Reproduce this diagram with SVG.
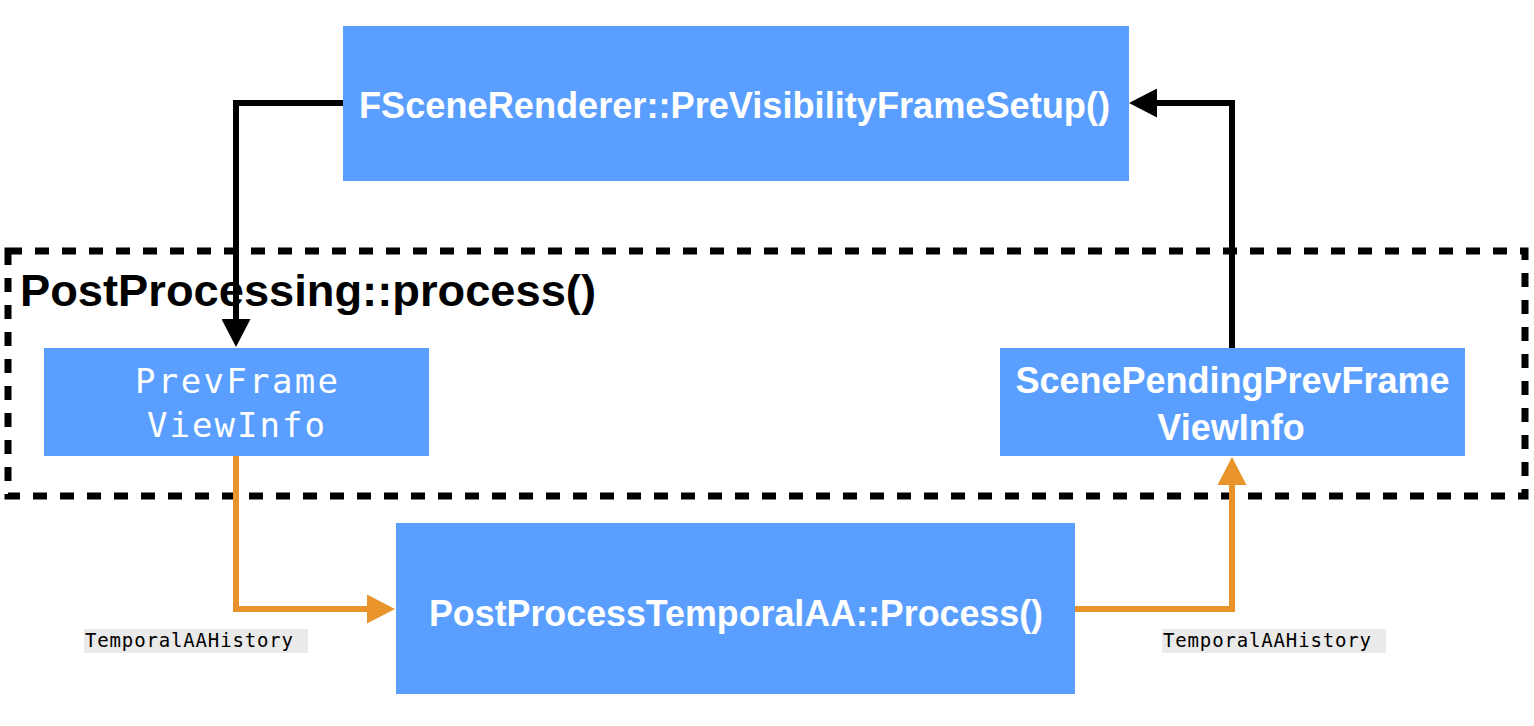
<svg xmlns="http://www.w3.org/2000/svg" width="1534" height="726" viewBox="0 0 1534 726">
<style>
.box{fill:#5A9FFF;}
.sans{font-family:"Liberation Sans",Arial,Helvetica,sans-serif;font-weight:bold;}
.wt{fill:#FFFFFF;font-size:36px;}
.mono{font-family:"DejaVu Sans Mono","Liberation Mono",monospace;}
.lbl{font-size:19px;fill:#000000;}
.lblbg{fill:#EAEAEA;}
.blk{fill:none;stroke:#000000;stroke-width:6;}
.org{fill:none;stroke:#E8942A;stroke-width:6;}
</style>
<defs>
<marker id="ab" viewBox="0 0 28 29" refX="0" refY="14.5" markerWidth="28" markerHeight="29" markerUnits="userSpaceOnUse" orient="auto">
<path d="M0,0 L28,14.5 L0,29 Z" fill="#000000"/>
</marker>
<marker id="ao" viewBox="0 0 28 29" refX="0" refY="14.5" markerWidth="28" markerHeight="29" markerUnits="userSpaceOnUse" orient="auto">
<path d="M0,0 L28,14.5 L0,29 Z" fill="#E8942A"/>
</marker>
</defs>
<rect width="1534" height="726" fill="#FFFFFF"/>
<g id="postprocessing-group">
<rect x="8" y="251" width="1517" height="245" fill="none" stroke="#000000" stroke-width="7" stroke-dasharray="14 13"/>
<text class="sans" x="20" y="306" font-size="44" fill="#000000" textLength="576" lengthAdjust="spacingAndGlyphs">PostProcessing::process()</text>
</g>
<g id="node-previsibility">
<rect class="box" x="343" y="26" width="786" height="155"/>
<text class="sans wt" x="359" y="118" textLength="751" lengthAdjust="spacingAndGlyphs">FSceneRenderer::PreVisibilityFrameSetup()</text>
</g>
<g id="node-prevframe">
<rect class="box" x="44" y="348" width="385" height="108"/>
<text class="mono" x="135" y="393" font-size="34" fill="#FFFFFF" textLength="203">PrevFrame</text>
<text class="mono" x="147" y="437" font-size="34" fill="#FFFFFF" textLength="178">ViewInfo</text>
</g>
<g id="node-scenepending">
<rect class="box" x="1000" y="348" width="465" height="108"/>
<text class="sans wt" x="1232.5" y="393" text-anchor="middle">ScenePendingPrevFrame</text>
<text class="sans wt" x="1231" y="440" text-anchor="middle">ViewInfo</text>
</g>
<g id="node-temporalaa">
<rect class="box" x="396" y="523" width="679" height="171"/>
<text class="sans wt" x="429" y="626" textLength="614" lengthAdjust="spacingAndGlyphs">PostProcessTemporalAA::Process()</text>
</g>
<g id="connectors">
<path class="blk" d="M343,103 H236 V319" marker-end="url(#ab)"/>
<path class="blk" d="M1232,348 V103 H1157" marker-end="url(#ab)"/>
<path class="org" d="M236,456 V609 H367" marker-end="url(#ao)"/>
<path class="org" d="M1075,609 H1232 V485" marker-end="url(#ao)"/>
</g>
<g id="label-left">
<rect class="lblbg" x="84" y="629" width="224" height="24"/>
<text class="mono lbl" x="85" y="647" textLength="208">TemporalAAHistory</text>
</g>
<g id="label-right">
<rect class="lblbg" x="1162" y="629" width="224" height="24"/>
<text class="mono lbl" x="1163" y="647" textLength="208">TemporalAAHistory</text>
</g>
</svg>
